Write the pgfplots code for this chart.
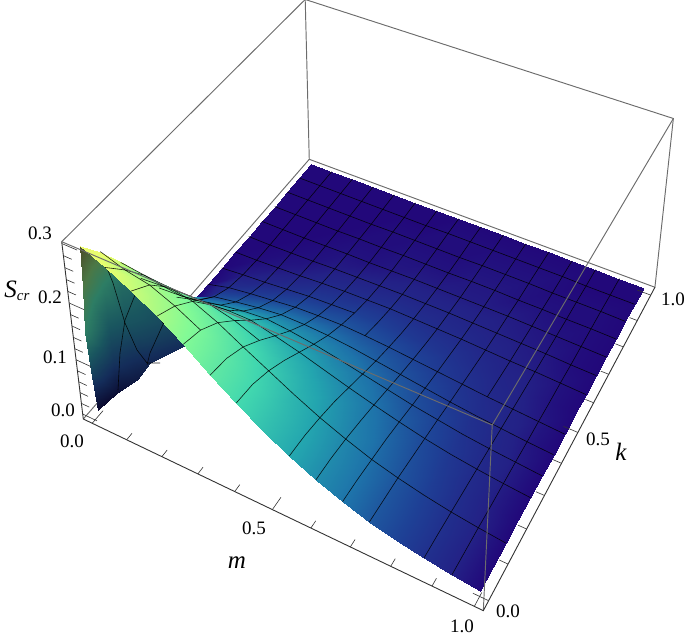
\documentclass[border=0pt]{standalone}
\usepackage{fontspec}
\setmainfont{Liberation Serif}
\usepackage{pgfplots}
\usepackage{pgfplotstable}
\pgfplotsset{compat=1.18,filter discard warning=false}

% S(m,k), m=i/15, k=j/15, back row first
\pgfplotstableread[row sep=\\]{
i j s\\
0 15 0\\ 1 15 0\\ 2 15 0\\ 3 15 0\\ 4 15 0\\ 5 15 0\\ 6 15 0\\ 7 15 0\\ 8 15 0\\ 9 15 0\\ 10 15 0\\ 11 15 0\\ 12 15 0\\ 13 15 0\\ 14 15 0\\ 15 15 0\\
0 14 0\\ 1 14 0\\ 2 14 0\\ 3 14 0\\ 4 14 0\\ 5 14 0\\ 6 14 0\\ 7 14 .001\\ 8 14 .001\\ 9 14 .001\\ 10 14 .001\\ 11 14 .001\\ 12 14 .001\\ 13 14 0\\ 14 14 0\\ 15 14 0\\
0 13 0\\ 1 13 0\\ 2 13 0\\ 3 13 0\\ 4 13 0\\ 5 13 .001\\ 6 13 .001\\ 7 13 .001\\ 8 13 .001\\ 9 13 .002\\ 10 13 .002\\ 11 13 .002\\ 12 13 .001\\ 13 13 .001\\ 14 13 .001\\ 15 13 0\\
0 12 0\\ 1 12 0\\ 2 12 0\\ 3 12 0\\ 4 12 .001\\ 5 12 .001\\ 6 12 .002\\ 7 12 .002\\ 8 12 .002\\ 9 12 .003\\ 10 12 .003\\ 11 12 .002\\ 12 12 .002\\ 13 12 .001\\ 14 12 .001\\ 15 12 0\\
0 11 0\\ 1 11 0\\ 2 11 0\\ 3 11 .001\\ 4 11 .002\\ 5 11 .002\\ 6 11 .003\\ 7 11 .004\\ 8 11 .004\\ 9 11 .004\\ 10 11 .004\\ 11 11 .004\\ 12 11 .003\\ 13 11 .002\\ 14 11 .001\\ 15 11 0\\
0 10 0\\ 1 10 0\\ 2 10 .001\\ 3 10 .002\\ 4 10 .004\\ 5 10 .005\\ 6 10 .006\\ 7 10 .007\\ 8 10 .007\\ 9 10 .007\\ 10 10 .006\\ 11 10 .005\\ 12 10 .004\\ 13 10 .003\\ 14 10 .001\\ 15 10 0\\
0 9 0\\ 1 9 .001\\ 2 9 .003\\ 3 9 .005\\ 4 9 .008\\ 5 9 .01\\ 6 9 .011\\ 7 9 .012\\ 8 9 .011\\ 9 9 .01\\ 10 9 .009\\ 11 9 .007\\ 12 9 .005\\ 13 9 .004\\ 14 9 .002\\ 15 9 0\\
0 8 0\\ 1 8 .004\\ 2 8 .007\\ 3 8 .011\\ 4 8 .015\\ 5 8 .017\\ 6 8 .019\\ 7 8 .019\\ 8 8 .017\\ 9 8 .015\\ 10 8 .013\\ 11 8 .01\\ 12 8 .007\\ 13 8 .005\\ 14 8 .002\\ 15 8 0\\
0 7 0\\ 1 7 .011\\ 2 7 .017\\ 3 7 .022\\ 4 7 .027\\ 5 7 .029\\ 6 7 .03\\ 7 7 .028\\ 8 7 .025\\ 9 7 .021\\ 10 7 .017\\ 11 7 .013\\ 12 7 .009\\ 13 7 .006\\ 14 7 .003\\ 15 7 0\\
0 6 0\\ 1 6 .026\\ 2 6 .034\\ 3 6 .041\\ 4 6 .046\\ 5 6 .046\\ 6 6 .044\\ 7 6 .04\\ 8 6 .034\\ 9 6 .028\\ 10 6 .022\\ 11 6 .016\\ 12 6 .011\\ 13 6 .007\\ 14 6 .003\\ 15 6 0\\
0 5 .04\\ 1 5 .052\\ 2 5 .061\\ 3 5 .068\\ 4 5 .072\\ 5 5 .068\\ 6 5 .062\\ 7 5 .054\\ 8 5 .045\\ 9 5 .036\\ 10 5 .027\\ 11 5 .02\\ 12 5 .013\\ 13 5 .008\\ 14 5 .004\\ 15 5 0\\
0 4 .09\\ 1 4 .093\\ 2 4 .099\\ 3 4 .103\\ 4 4 .103\\ 5 4 .093\\ 6 4 .082\\ 7 4 .069\\ 8 4 .056\\ 9 4 .044\\ 10 4 .033\\ 11 4 .023\\ 12 4 .015\\ 13 4 .009\\ 14 4 .004\\ 15 4 0\\
0 3 .14\\ 1 3 .143\\ 2 3 .146\\ 3 3 .146\\ 4 3 .136\\ 5 3 .119\\ 6 3 .102\\ 7 3 .084\\ 8 3 .067\\ 9 3 .051\\ 10 3 .038\\ 11 3 .026\\ 12 3 .017\\ 13 3 .01\\ 14 3 .004\\ 15 3 0\\
0 2 .2\\ 1 2 .195\\ 2 2 .192\\ 3 2 .185\\ 4 2 .166\\ 5 2 .142\\ 6 2 .119\\ 7 2 .096\\ 8 2 .075\\ 9 2 .057\\ 10 2 .041\\ 11 2 .029\\ 12 2 .019\\ 13 2 .011\\ 14 2 .005\\ 15 2 0\\
0 1 .25\\ 1 1 .236\\ 2 1 .228\\ 3 1 .21\\ 4 1 .187\\ 5 1 .157\\ 6 1 .131\\ 7 1 .104\\ 8 1 .081\\ 9 1 .061\\ 10 1 .044\\ 11 1 .03\\ 12 1 .02\\ 13 1 .012\\ 14 1 .005\\ 15 1 0\\
0 0 .29\\ 1 0 .272\\ 2 0 .25\\ 3 0 .226\\ 4 0 .197\\ 5 0 .163\\ 6 0 .135\\ 7 0 .107\\ 8 0 .083\\ 9 0 .062\\ 10 0 .045\\ 11 0 .031\\ 12 0 .02\\ 13 0 .012\\ 14 0 .005\\ 15 0 0\\
}\Main
% same rows, one m after the other, for the lines of constant m
\pgfplotstablecreatecol[expr={100*\thisrow{i}+\thisrow{j}}]{key}{\Main}
\pgfplotstablesort[sort key=key,sort cmp=float <]{\ByM}{\Main}

% steep underside near m=0: m k s shade
\pgfplotstableread[row sep=\\]{
m k s c\\
0 .284 .08 .45\\ .02 .284 .06 .45\\ .04 .284 .04 .40\\ .06 .284 .02 .35\\ .075 .284 0 .25\\
0 .177 .16 .62\\ .006 .177 .12 .55\\ .012 .177 .08 .48\\ .018 .177 .04 .36\\ .0235 .177 0 .20\\
0 .119 .21 .72\\ .006 .119 .16 .60\\ .013 .119 .10 .48\\ .019 .119 .05 .30\\ .0254 .119 0 .12\\
0 .063 .25 .88\\ .002 .063 .19 .70\\ .004 .063 .12 .50\\ .006 .063 .06 .30\\ .0074 .063 0 .05\\
0 0 .29 1\\ -.005 0 .22 .85\\ -.012 0 .14 .72\\ -.008 0 .07 .40\\ 0 0 0 0\\
}\Wall

\pgfplotsset{
  colormap={main}{rgb255(0)=(34,8,122) rgb255(5)=(35,33,134) rgb255(20)=(30,65,150)
    rgb255(44)=(30,115,170) rgb255(80)=(35,165,175) rgb255(131)=(65,215,175)
    rgb255(197)=(130,250,150) rgb255(230)=(175,250,130) rgb255(270)=(230,255,110)
    rgb255(290)=(235,250,110)},
  colormap={wall}{rgb255(0)=(10,8,45) rgb255(25)=(20,45,90) rgb255(50)=(25,85,95)
    rgb255(72)=(45,125,100) rgb255(85)=(75,120,70) rgb255(100)=(75,75,40)},
  box/.style={draw=gray!85!black,line width=0.95pt,no markers},
  axisline/.style={draw=black!80,line width=0.9pt,no markers},
  mline/.style={draw=black,line width=0.6pt,no markers,opacity=0.85},
  /pgfplots/table/framexy/.style={x expr={fx(\thisrow{u},\thisrow{v},\thisrow{w})},y expr={fy(\thisrow{u},\thisrow{v},\thisrow{w})}},
  /pgfplots/table/dataxy/.style={x expr={sx(\thisrow{i},\thisrow{j},\thisrow{s})},y expr={sy(\thisrow{i},\thisrow{j},\thisrow{s})}},
}

% mesh lines taken from the surface table
\newcommand\kline[2]{\addplot[mline,restrict expr to domain={abs(\thisrow{j}-#1)+(\thisrow{i}>#2)*9}{0:0.1}] table[dataxy]{\Main};}
\newcommand\mlinek[2]{\addplot[mline,restrict expr to domain={abs(\thisrow{i}-#1)+(#2>\thisrow{j})*9}{0:0.1}] table[dataxy]{\ByM};}
\newcommand\lab[4][19]{\node[font=\fontsize{#1}{#1}\selectfont,inner sep=0pt] at (axis cs:#2,#3) {#4};}

\begin{document}
\begin{tikzpicture}
\begin{axis}[
  width=685pt,height=639pt,scale only axis,
  xmin=0,xmax=685,ymin=0,ymax=639,y dir=reverse,
  hide axis,
  point meta min=0,point meta max=1,
  declare function={
    dn(\u,\v,\w)=1-0.1126*\u+0.2132*\v-0.0685*\w;
    fx(\u,\v,\w)=(83.3+345.6*\u+291.9*\v-25.83*\w)/dn(\u,\v,\w);
    fy(\u,\v,\w)=(419+122.9*\u-225.74*\v-193.86*\w)/dn(\u,\v,\w);
    sx(\i,\j,\s)=fx(0.025+0.955*\i/15,0.025+0.945*\j/15,0.03+3.2*\s);
    sy(\i,\j,\s)=fy(0.025+0.955*\i/15,0.025+0.945*\j/15,0.03+3.2*\s);
  },
]
% back of the box
\addplot[box] table[framexy]{
u v w
0 0 1
0 1 1
1 1 1
1 1 0
0 1 0
0 0 0
};
\addplot[box] table[framexy]{
u v w
0 1 0
0 1 1
};
% underside
\addplot[surf,shader=interp,colormap name=wall,mesh/cols=5,point meta=explicit]
  table[x expr={sx(15*\thisrow{m},15*\thisrow{k},\thisrow{s})},y expr={sy(15*\thisrow{m},15*\thisrow{k},\thisrow{s})},meta=c]{\Wall};
\addplot[mline] coordinates {(105,263)(113,283)(125,323)(137,350)(147,363)(160,363)};
\addplot[mline] coordinates {(158,290)(137,290)(125,320)(120,353)(118,390)};
\addplot[mline] coordinates {(165,320)(150,353)(147,365)};
\addplot[mline] coordinates {(150,303)(163,323)(183,343)};
% surface
\addplot[surf,shader=interp,colormap name=main,mesh/cols=16,
  point meta={min(1,(\thisrow{s}+ifthenelse(\thisrow{i}<0.5 && \thisrow{s}>0,0.06,0))/0.29)}]
  table[dataxy]{\Main};
% mesh lines
\pgfplotsinvokeforeach{2,4,5,6,7,9,10,11,12,13,14}{\kline{#1}{15}}
\kline{1}{4}\kline{3}{5}\kline{8}{6}
\pgfplotsinvokeforeach{1,2,3,4,5,6,8,9,10,11,13,14}{\mlinek{#1}{0}}
\mlinek{7}{7}\mlinek{12}{7}
% front of the box
\addplot[box] table[framexy]{
u v w
0 0 1
1 0 1
1 1 1
};
\addplot[box] table[framexy]{
u v w
1 0 1
1 0 0
};
% axes and ticks
\addplot[axisline] table[framexy]{
u v w
0 0 1
0 0 0
1 0 0
1 1 0
};
\addplot[axisline,line width=0.6pt,unbounded coords=jump] table[framexy]{
u v w
.025 0 0
.025 .04 0
nan nan nan
.1205 0 0
.1205 .02 0
nan nan nan
.216 0 0
.216 .02 0
nan nan nan
.3115 0 0
.3115 .02 0
nan nan nan
.407 0 0
.407 .02 0
nan nan nan
.5025 0 0
.5025 .035 0
nan nan nan
.598 0 0
.598 .02 0
nan nan nan
.6935 0 0
.6935 .02 0
nan nan nan
.789 0 0
.789 .02 0
nan nan nan
.8845 0 0
.8845 .02 0
nan nan nan
.98 0 0
.98 .035 0
nan nan nan
1 .025 0
.965 .025 0
nan nan nan
1 .1195 0
.98 .1195 0
nan nan nan
1 .214 0
.98 .214 0
nan nan nan
1 .3085 0
.98 .3085 0
nan nan nan
1 .403 0
.98 .403 0
nan nan nan
1 .4975 0
.965 .4975 0
nan nan nan
1 .592 0
.98 .592 0
nan nan nan
1 .6865 0
.98 .6865 0
nan nan nan
1 .781 0
.98 .781 0
nan nan nan
1 .8755 0
.98 .8755 0
nan nan nan
1 .97 0
.965 .97 0
nan nan nan
0 0 .03
.04 0 .03
nan nan nan
0 0 .094
.022 0 .094
nan nan nan
0 0 .158
.022 0 .158
nan nan nan
0 0 .222
.022 0 .222
nan nan nan
0 0 .286
.022 0 .286
nan nan nan
0 0 .35
.04 0 .35
nan nan nan
0 0 .414
.022 0 .414
nan nan nan
0 0 .478
.022 0 .478
nan nan nan
0 0 .542
.022 0 .542
nan nan nan
0 0 .606
.022 0 .606
nan nan nan
0 0 .67
.04 0 .67
nan nan nan
0 0 .734
.022 0 .734
nan nan nan
0 0 .798
.022 0 .798
nan nan nan
0 0 .862
.022 0 .862
nan nan nan
0 0 .926
.022 0 .926
nan nan nan
0 0 .99
.04 0 .99
};
% tick labels and axis titles
\lab{40}{233}{0.3}
\lab{50}{297}{0.2}
\lab{55}{357}{0.1}
\lab{63}{410}{0.0}
\lab{72}{441}{0.0}
\lab{254}{528}{0.5}
\lab{462}{626}{1.0}
\lab{508}{611}{0.0}
\lab{598}{439}{0.5}
\lab{673}{299}{1.0}
\lab[25]{237}{563}{\textit{m}}
\lab[25]{621}{452}{\textit{k}}
\lab[25]{17}{291}{\textit{S}\raisebox{-3pt}{\fontsize{15}{15}\selectfont\textit{cr}}}
\end{axis}
\pgfresetboundingbox
\path (0,0) rectangle (685pt,639pt);
\end{tikzpicture}
\end{document}
